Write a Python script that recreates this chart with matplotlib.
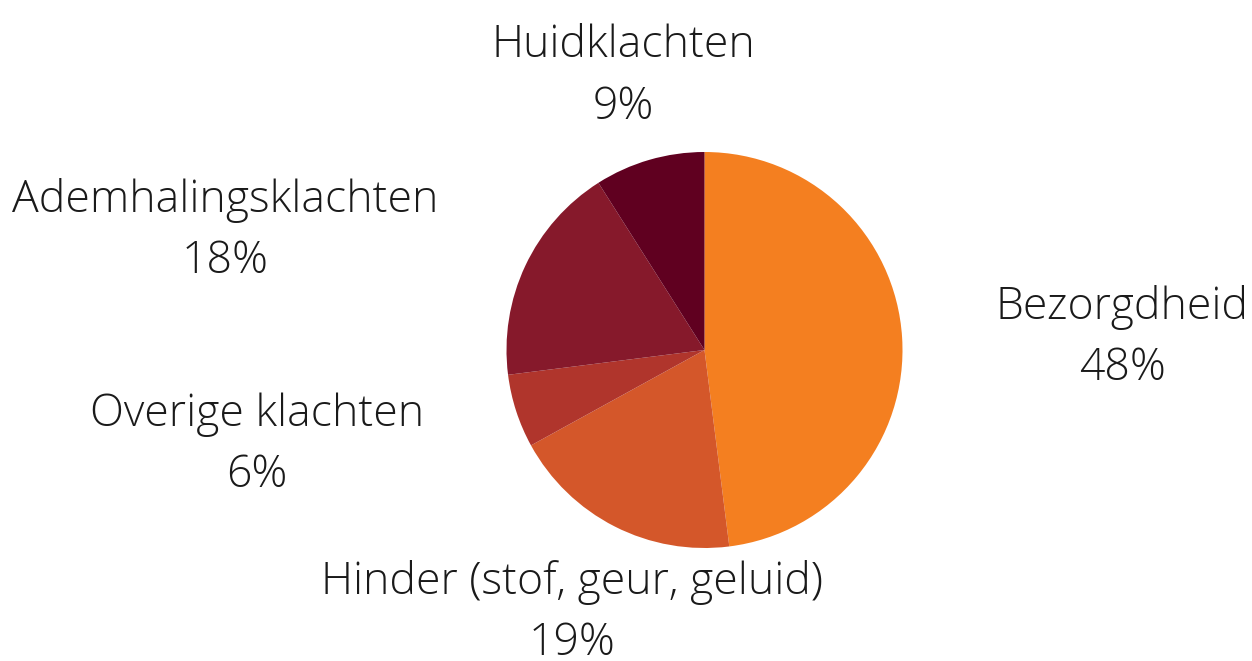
import matplotlib
matplotlib.use("Agg")
import matplotlib.pyplot as plt

categories = ["Bezorgdheid", "Hinder (stof, geur, geluid)", "Overige klachten",
              "Ademhalingsklachten", "Huidklachten"]
values = [48, 19, 6, 18, 9]
colors = ["#F47F20", "#D4572A", "#B0352C", "#86192B", "#600020"]

# label centres (in pie-radius units, relative to pie centre)
label_pos = [(2.11, 0.06), (-0.67, -1.33), (-2.26, -0.48), (-2.42, 0.60), (-0.41, 1.38)]

W, H = 1252, 661
fig = plt.figure(figsize=(W / 100, H / 100), dpi=100)
cx, cy, r = 704.5, 661 - 350, 198
ax = fig.add_axes([(cx - r) / W, (cy - r) / H, 2 * r / W, 2 * r / H])
ax.pie(values, colors=colors, startangle=90, counterclock=False, radius=1,
       wedgeprops=dict(linewidth=0))
ax.set_xlim(-1, 1)
ax.set_ylim(-1, 1)
ax.set_aspect("equal")
ax.axis("off")

for cat, v, (x, y) in zip(categories, values, label_pos):
    ax.text(x, y, f"{cat}\n{v}%", ha="center", va="center", fontsize=32,
            family="Open Sans", fontweight="light", color="#1a1a1a",
            linespacing=1.5, clip_on=False)

fig.savefig("out.png", dpi=100)
